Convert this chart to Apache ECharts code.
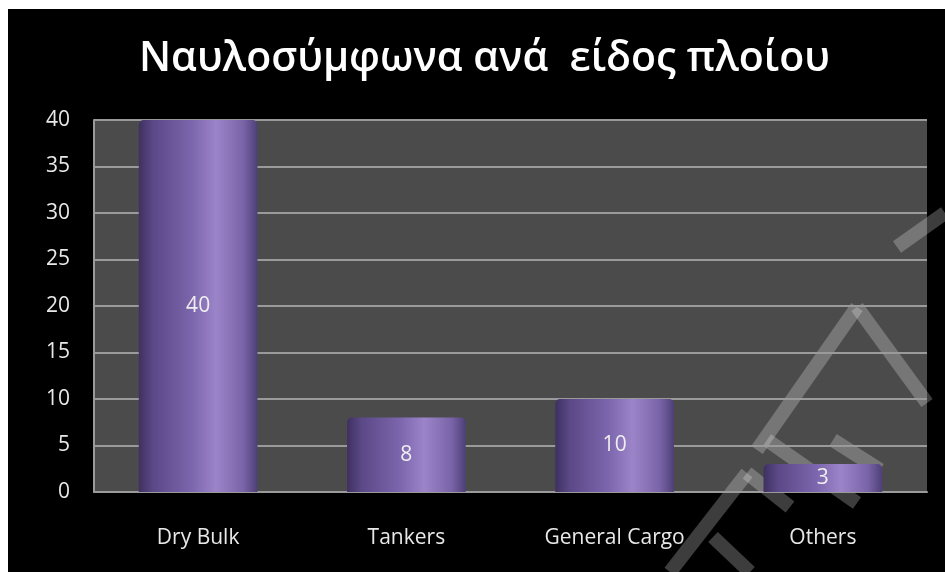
<!DOCTYPE html>
<html>
<head>
<meta charset="utf-8">
<script src="https://cdn.jsdelivr.net/npm/echarts@6/dist/echarts.min.js"></script>
<style>
  html, body { margin: 0; padding: 0; background: #ffffff; }
  #chart { position: absolute; left: 8px; top: 9px; width: 937px; height: 563px; background: #000000; }
</style>
</head>
<body>
<div id="chart"></div>
<script>
// Charter parties by vessel type
const titleText = 'Ναυλοσύμφωνα ανά  είδος πλοίου';
const categories = ['Dry Bulk', 'Tankers', 'General Cargo', 'Others'];
const counts = [40, 8, 10, 3];
const yTicks = [0, 5, 10, 15, 20, 25, 30, 35, 40];

const chart = echarts.init(document.getElementById('chart'), null, { renderer: 'canvas' });

// horizontal shading that gives each bar a cylindrical look
const cylinderFill = new echarts.graphic.LinearGradient(0, 0, 1, 0, [
  { offset: 0, color: '#3e3160' },
  { offset: 0.12, color: '#5b4887' },
  { offset: 0.45, color: '#7c66ad' },
  { offset: 0.65, color: '#9c84c9' },
  { offset: 0.88, color: '#7a64a8' },
  { offset: 1, color: '#4e3f78' }
]);

const textFont = 'Open Sans';

// faint outline strokes of the watermark lettering (page pixels)
const watermarkStrokes = [
  [[670, 572], [747, 473]],
  [[747, 473], [790, 507]],
  [[713, 537], [750, 572]],
  [[767, 440], [857, 503]],
  [[833, 440], [880, 470]],
  [[757, 450], [857, 307]],
  [[857, 307], [927, 403]],
  [[897, 247], [945, 213]]
];

chart.setOption({
  backgroundColor: '#000000',
  animation: false,
  title: {
    text: titleText,
    left: 126,
    top: 25,
    textStyle: {
      color: '#ffffff',
      fontFamily: textFont,
      fontWeight: 600,
      fontSize: 41
    }
  },
  grid: {
    left: 86,
    right: 18,
    top: 111,
    bottom: 80,
    show: true,
    backgroundColor: '#4b4b4b',
    borderWidth: 0
  },
  xAxis: {
    type: 'category',
    data: categories,
    axisTick: { show: false },
    axisLine: { show: true, lineStyle: { color: '#9a9a9a', width: 2 } },
    axisLabel: {
      color: '#e8e8e8',
      fontFamily: textFont,
      fontSize: 21,
      margin: 36
    }
  },
  yAxis: {
    type: 'value',
    min: yTicks[0],
    max: yTicks[yTicks.length - 1],
    interval: yTicks[1] - yTicks[0],
    axisLine: { show: true, lineStyle: { color: '#9a9a9a', width: 2 } },
    axisTick: { show: false },
    splitLine: { show: true, lineStyle: { color: '#9a9a9a', width: 2 } },
    axisLabel: {
      color: '#e8e8e8',
      fontFamily: textFont,
      fontSize: 21,
      margin: 24
    }
  },
  graphic: {
    type: 'group',
    silent: true,
    z: 100,
    children: watermarkStrokes.map(function (pts) {
      return {
        type: 'polyline',
        shape: { points: pts.map(function (p) { return [p[0] - 8, p[1] - 9]; }) },
        style: { stroke: 'rgba(255,255,255,0.24)', lineWidth: 14, fill: null }
      };
    })
  },
  series: [
    {
      type: 'bar',
      data: counts,
      barWidth: '57%',
      itemStyle: { color: cylinderFill, borderRadius: [5, 5, 0, 0] },
      label: {
        show: true,
        position: 'inside',
        color: '#eeeeee',
        fontFamily: textFont,
        fontSize: 21
      },
      z: 2
    }
  ]
});
</script>
</body>
</html>
